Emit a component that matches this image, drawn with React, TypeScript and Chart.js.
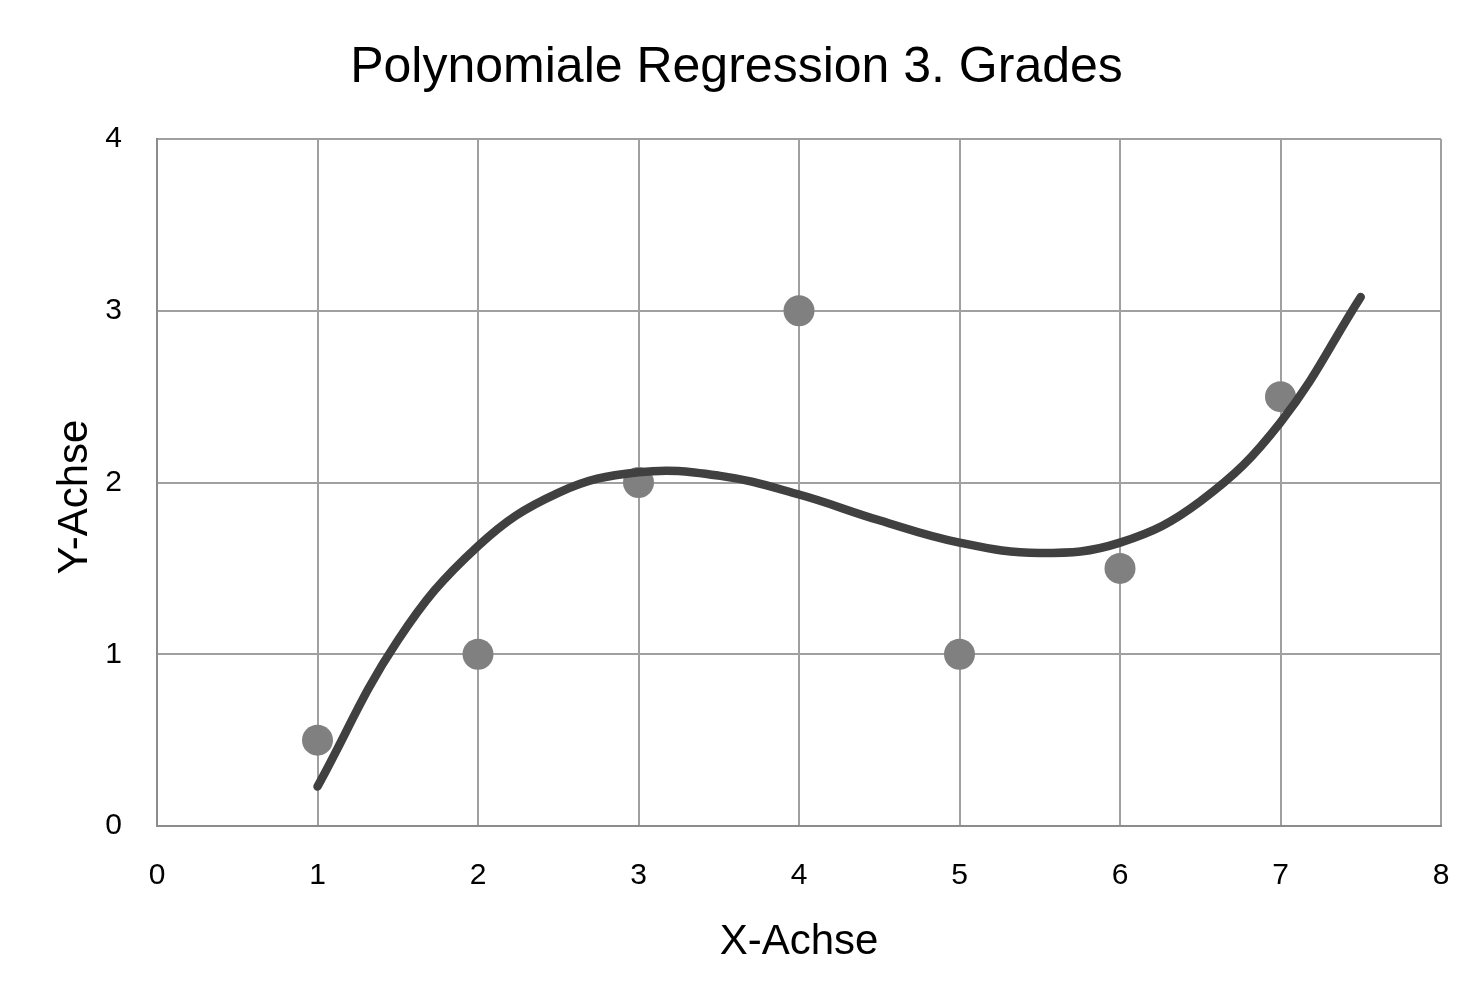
import React, { useEffect, useRef } from "react";
import { Chart, registerables } from "chart.js";

Chart.register(...registerables);

const TITLE = "Polynomiale Regression 3. Grades";
const X_TITLE = "X-Achse";
const Y_TITLE = "Y-Achse";

const dataX = [1, 2, 3, 4, 5, 6, 7];
const dataY = [0.5, 1, 2, 3, 1, 1.5, 2.5];

// trend curve at half steps
const trendX = [1, 1.5, 2, 2.5, 3, 3.5, 4, 4.5, 5, 5.5, 6, 6.5, 7, 7.5];
const trendY = [0.23, 1.08, 1.63, 1.94, 2.06, 2.04, 1.93, 1.78, 1.65, 1.59, 1.65, 1.89, 2.35, 3.08];

const FONT = "'Liberation Sans', Arial, sans-serif";

const textPlugin = {
  id: "customTexts",
  afterDraw(chart: any) {
    const ctx = chart.ctx;
    ctx.save();
    ctx.fillStyle = "#000";
    ctx.textAlign = "center";
    ctx.textBaseline = "alphabetic";
    ctx.font = `50px ${FONT}`;
    ctx.fillText(TITLE, chart.width / 2, 82);
    ctx.translate(87, 497);
    ctx.rotate(-Math.PI / 2);
    ctx.font = `42px ${FONT}`;
    ctx.fillText(Y_TITLE, 0, 0);
    ctx.restore();
  },
};

export default function App() {
  const ref = useRef<HTMLCanvasElement | null>(null);

  useEffect(() => {
    if (!ref.current) return;
    const chart = new Chart(ref.current, {
      type: "scatter",
      data: {
        datasets: [
          {
            type: "line",
            label: "Trend",
            data: trendX.map((x, i) => ({ x, y: trendY[i] })),
            borderColor: "#404040",
            borderWidth: 8.5,
            borderCapStyle: "round",
            borderJoinStyle: "round",
            pointRadius: 0,
            tension: 0.4,
            fill: false,
            order: 0,
          } as any,
          {
            type: "scatter",
            label: "Daten",
            data: dataX.map((x, i) => ({ x, y: dataY[i] })),
            backgroundColor: "#808080",
            borderColor: "#808080",
            borderWidth: 0,
            pointRadius: 15.5,
            order: 1,
          },
        ],
      },
      options: {
        animation: false,
        responsive: false,
        maintainAspectRatio: false,
        layout: { autoPadding: false, padding: { left: 0, right: 32, top: 139, bottom: 0 } },
        plugins: {
          legend: { display: false },
          tooltip: { enabled: false },
          title: { display: false },
        },
        scales: {
          x: {
            type: "linear",
            min: 0,
            max: 8,
            ticks: {
              stepSize: 1,
              color: "#000",
              font: { family: FONT, size: 30 },
              padding: 32,
            },
            grid: { color: "#a0a0a0", lineWidth: 2, drawTicks: false },
            border: { color: "#8c8c8c", width: 2 },
            title: {
              display: true,
              text: X_TITLE,
              color: "#000",
              font: { family: FONT, size: 42 },
              padding: { top: 0, bottom: 32 },
            },
            afterFit: (s: any) => {
              s.height = 174;
              s.paddingLeft = 0;
              s.paddingRight = 0;
            },
          },
          y: {
            type: "linear",
            min: 0,
            max: 4,
            ticks: {
              stepSize: 1,
              color: "#000",
              font: { family: FONT, size: 30 },
              padding: 35,
            },
            grid: { color: "#a0a0a0", lineWidth: 2, drawTicks: false },
            border: { color: "#8c8c8c", width: 2 },
            title: { display: false },
            afterFit: (s: any) => {
              s.width = 157;
              s.paddingTop = 0;
              s.paddingBottom = 0;
            },
          },
        },
      },
      plugins: [textPlugin],
    });
    return () => chart.destroy();
  }, []);

  return (
    <div style={{ position: "fixed", left: 0, top: 0, width: 1473, height: 1000, background: "#fff" }}>
      <canvas ref={ref} width={1473} height={1000} style={{ width: 1473, height: 1000, display: "block" }} />
    </div>
  );
}
